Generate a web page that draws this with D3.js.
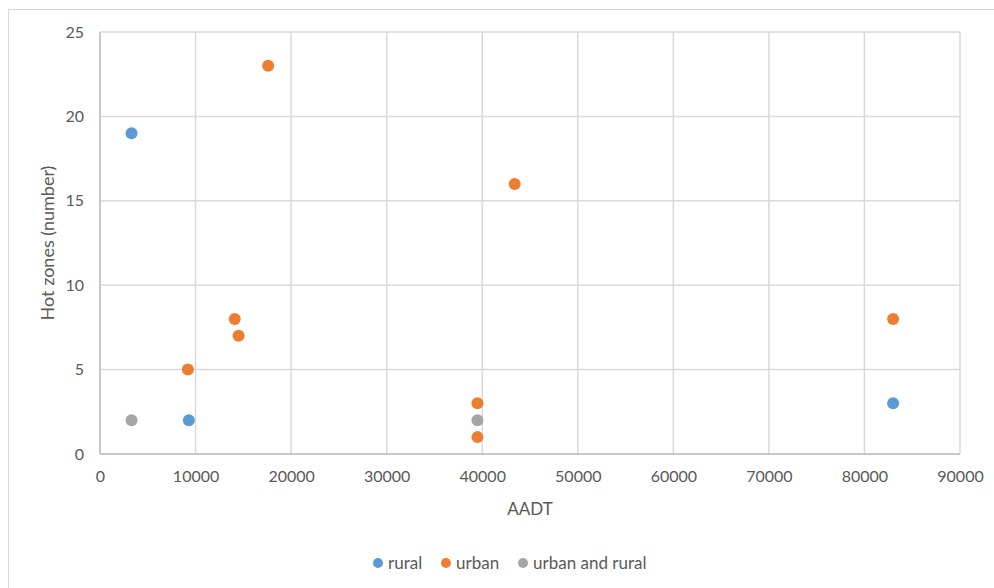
<!DOCTYPE html>
<html><head><meta charset="utf-8">
<script src="https://cdn.jsdelivr.net/npm/d3@7"></script>
<style>body{margin:0;background:#fff}svg{display:block}text{font-family:Lato,"Open Sans",sans-serif;fill:#595959}</style>
</head><body>
<script>
const seriesNames = ["rural","urban","urban and rural"];
const seriesColors = ["#5b9bd5","#ed7d31","#a5a5a5"];
const ruralX = [3300, 9300, 83000];
const ruralY = [19, 2, 3];
const urbanX = [17600, 43400, 14100, 14500, 9200, 39500, 39500, 83000];
const urbanY = [23, 16, 8, 7, 5, 3, 1, 8];
const mixedX = [3300, 39500];
const mixedY = [2, 2];
const xTicks = [0,10000,20000,30000,40000,50000,60000,70000,80000,90000];
const yTicks = [0,5,10,15,20,25];

const W=994,H=588;
const svg=d3.select("body").append("svg").attr("width",W).attr("height",H);
svg.append("rect").attr("x",8.5).attr("y",9.5).attr("width",W).attr("height",H).attr("fill","#fff").attr("stroke","#d9d9d9");

const L=100,R=960,T=32,B=454;
const x=d3.scaleLinear().domain([0,90000]).range([L,R]);
const y=d3.scaleLinear().domain([0,25]).range([B,T]);

const g=svg.append("g");
g.selectAll(".vg").data(xTicks).join("line").attr("x1",d=>x(d)).attr("x2",d=>x(d)).attr("y1",T).attr("y2",B).attr("stroke","#d9d9d9").attr("stroke-width",1.5);
g.selectAll(".hg").data(yTicks).join("line").attr("x1",L).attr("x2",R).attr("y1",d=>y(d)).attr("y2",d=>y(d)).attr("stroke","#d9d9d9").attr("stroke-width",1.5);
g.append("line").attr("x1",L).attr("x2",L).attr("y1",T).attr("y2",B).attr("stroke","#bfbfbf").attr("stroke-width",1.5);
g.append("line").attr("x1",L).attr("x2",R).attr("y1",B).attr("y2",B).attr("stroke","#bfbfbf").attr("stroke-width",1.5);

const xa=svg.append("g").attr("transform",`translate(0,${B})`).call(d3.axisBottom(x).tickValues(xTicks).tickFormat(d3.format("d")).tickSize(0).tickPadding(17));
const ya=svg.append("g").attr("transform",`translate(${L},0)`).call(d3.axisLeft(y).tickValues(yTicks).tickSize(0).tickPadding(16));
[xa,ya].forEach(a=>{a.select(".domain").remove();a.selectAll("text").attr("font-size",16).attr("fill","#595959").style("font-family","Lato,'Open Sans',sans-serif");});

svg.append("text").attr("x",530).attr("y",515).attr("text-anchor","middle").attr("font-size",17).text("AADT");
svg.append("text").attr("transform","translate(54,243) rotate(-90)").attr("text-anchor","middle").attr("font-size",18).text("Hot zones (number)");

const series=[[ruralX,ruralY],[urbanX,urbanY],[mixedX,mixedY]];
series.forEach((s,i)=>{
  const pts=s[0].map((v,j)=>[v,s[1][j]]);
  svg.append("g").selectAll("circle").data(pts).join("circle")
    .attr("cx",d=>x(d[0])).attr("cy",d=>y(d[1])).attr("r",6).attr("fill",seriesColors[i]);
});

const legX=[378,446,523];
const lg=svg.append("g");
seriesNames.forEach((n,i)=>{
  lg.append("circle").attr("cx",legX[i]).attr("cy",563).attr("r",5).attr("fill",seriesColors[i]);
  lg.append("text").attr("x",legX[i]+10).attr("y",569).attr("font-size",17).text(n);
});
</script>
</body></html>
